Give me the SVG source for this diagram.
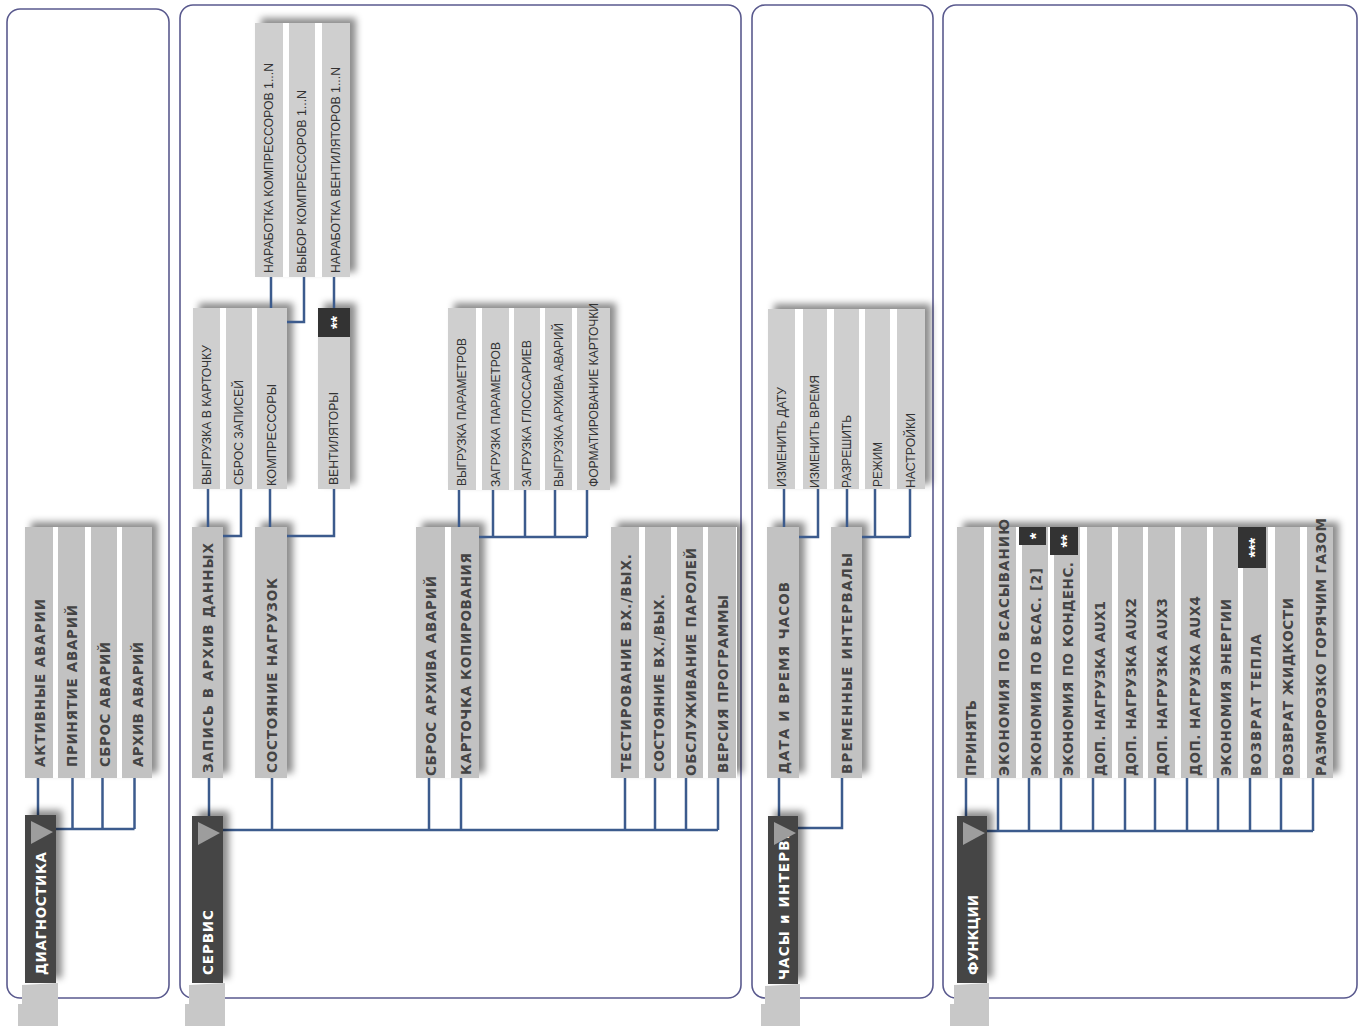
<svg xmlns="http://www.w3.org/2000/svg" width="1362" height="1026" viewBox="0 0 1362 1026">
<style>
.panel{fill:none;stroke:#5a5a8e;stroke-width:1.6}
.back{fill:#fff;filter:url(#sh)}
.b1{fill:#c2c2c2}
.b2{fill:#cfcfcf}
.t1{font-family:"DejaVu Sans","Liberation Sans",sans-serif;font-weight:bold;font-size:13.5px;fill:#444}
.t2{font-family:"Liberation Sans",Arial,sans-serif;font-size:12px;fill:#333}
.root{fill:#444;filter:url(#sh)}
.tr{font-family:"DejaVu Sans","Liberation Sans",sans-serif;font-weight:bold;font-size:13.5px;fill:#fff}
.tri{fill:#9d9d9d}
.tab{fill:#c8c8c8}
.box{fill:#333}
.ts{font-family:"Liberation Sans",Arial,sans-serif;font-weight:bold;font-size:17px;fill:#fff}
.conn{fill:none;stroke:#3c5b8d;stroke-width:2.5}
</style>
<defs>
<filter id="sh" x="-100%" y="-20%" width="300%" height="140%">
<feDropShadow dx="6" dy="-5" stdDeviation="3.5" flood-color="#000" flood-opacity="0.45"/>
</filter>
</defs>
<rect width="1362" height="1026" fill="#fff"/>
<g id="panels">
<rect class="panel" x="7" y="9" width="162" height="989" rx="13"/>
<rect class="panel" x="180" y="5" width="561" height="993" rx="13"/>
<rect class="panel" x="752" y="5" width="181" height="993" rx="13"/>
<rect class="panel" x="943" y="5" width="414" height="993" rx="13"/>
</g>
<g id="shadows">
<rect class="back" x="25" y="527" width="127" height="251"/>
<rect class="back" x="192" y="527" width="31" height="251"/>
<rect class="back" x="255" y="527" width="32" height="251"/>
<rect class="back" x="416" y="527" width="63" height="251"/>
<rect class="back" x="611" y="527" width="126" height="251"/>
<rect class="back" x="193" y="308" width="94" height="181"/>
<rect class="back" x="318" y="308" width="32" height="181"/>
<rect class="back" x="448" y="308" width="162" height="182"/>
<rect class="back" x="255" y="23" width="95" height="254"/>
<rect class="back" x="767" y="527" width="32" height="251"/>
<rect class="back" x="831" y="527" width="31" height="251"/>
<rect class="back" x="768" y="309" width="157" height="180"/>
<rect class="back" x="957" y="527" width="376" height="251"/>
</g>
<g id="connectors">
<path class="conn" d="M38,778V816M72.5,778V829M102.5,778V829M134.5,778V829M56,829H134.5"/>
<path class="conn" d="M209,778V816M272,778V830M429,778V830M461,778V830M625,778V830M655,778V830M686,778V830M718,778V830M223,830H718"/>
<path class="conn" d="M208,489V527M241,489V536H223M270,489V527M334,489V536H287"/>
<path class="conn" d="M271,277V308M304,277V322H287M334,277V308"/>
<path class="conn" d="M459,490V527M493,490V537M525,490V537M555,490V537M587,490V537M479,537H587"/>
<path class="conn" d="M779,778V816M842,778V828H798M784,489V527M818,489V537H799M847,489V527M875,489V537M910,489V537M862,537H910"/>
<path class="conn" d="M966,778V816M998,778V831M1029,778V831M1061,778V831M1093,778V831M1125,778V831M1155,778V831M1187,778V831M1218,778V831M1250,778V831M1281,778V831M1313,778V831M987,831H1313"/>
</g>
<!-- Panel 1 -->
<g id="n-diagnostika">
<rect class="root" x="25" y="815" width="31" height="168"/>
<text class="tr" transform="translate(45.5,975) rotate(-90)" textLength="123" lengthAdjust="spacing">ДИАГНОСТИКА</text>
<polygon class="tri" points="31,821 31,844 53,832"/>
<polygon class="tab" points="22,985 58,983 58,1026 18,1026 18,1004 22,1004"/>
</g>
<g id="n-aktivnye"><rect class="b1" x="25" y="527" width="28" height="251"/><text class="t1" transform="translate(44.5,767) rotate(-90)" textLength="168" lengthAdjust="spacing">АКТИВНЫЕ АВАРИИ</text></g>
<g id="n-prinyatie"><rect class="b1" x="58" y="527" width="27" height="251"/><text class="t1" transform="translate(77,767) rotate(-90)" textLength="162" lengthAdjust="spacing">ПРИНЯТИЕ АВАРИЙ</text></g>
<g id="n-sbros"><rect class="b1" x="91" y="527" width="26" height="251"/><text class="t1" transform="translate(109.5,767) rotate(-90)" textLength="125" lengthAdjust="spacing">СБРОС АВАРИЙ</text></g>
<g id="n-arhiv"><rect class="b1" x="122" y="527" width="30" height="251"/><text class="t1" transform="translate(142.5,767) rotate(-90)" textLength="125" lengthAdjust="spacing">АРХИВ АВАРИЙ</text></g>
<!-- Panel 2 -->
<g id="n-servis">
<rect class="root" x="192" y="816" width="31" height="167"/>
<text class="tr" transform="translate(212.5,975) rotate(-90)" textLength="65" lengthAdjust="spacing">СЕРВИС</text>
<polygon class="tri" points="198,822 198,845 220,833"/>
<polygon class="tab" points="189,985 225,983 225,1026 185,1026 185,1004 189,1004"/>
</g>
<g id="n-zapis"><rect class="b1" x="192" y="527" width="31" height="251"/><text class="t1" transform="translate(213,773) rotate(-90)" textLength="230" lengthAdjust="spacing">ЗАПИСЬ В АРХИВ ДАННЫХ</text></g>
<g id="n-sost-nagr"><rect class="b1" x="255" y="527" width="32" height="251"/><text class="t1" transform="translate(276.5,773) rotate(-90)" textLength="195" lengthAdjust="spacing">СОСТОЯНИЕ НАГРУЗОК</text></g>
<g id="n-sbros-arh"><rect class="b1" x="416" y="527" width="29" height="251"/><text class="t1" transform="translate(436,776) rotate(-90)" textLength="200" lengthAdjust="spacing">СБРОС АРХИВА АВАРИЙ</text></g>
<g id="n-kartochka"><rect class="b1" x="451" y="527" width="28" height="251"/><text class="t1" transform="translate(470.5,775) rotate(-90)" textLength="222" lengthAdjust="spacing">КАРТОЧКА КОПИРОВАНИЯ</text></g>
<g id="n-test"><rect class="b1" x="611" y="527" width="28" height="251"/><text class="t1" transform="translate(630.5,772) rotate(-90)" textLength="218" lengthAdjust="spacing">ТЕСТИРОВАНИЕ ВХ./ВЫХ.</text></g>
<g id="n-sost-vh"><rect class="b1" x="645" y="527" width="26" height="251"/><text class="t1" transform="translate(663.5,772) rotate(-90)" textLength="178" lengthAdjust="spacing">СОСТОЯНИЕ ВХ./ВЫХ.</text></g>
<g id="n-obsl"><rect class="b1" x="677" y="527" width="26" height="251"/><text class="t1" transform="translate(695.5,776) rotate(-90)" textLength="228" lengthAdjust="spacing">ОБСЛУЖИВАНИЕ ПАРОЛЕЙ</text></g>
<g id="n-versiya"><rect class="b1" x="708" y="527" width="28" height="251"/><text class="t1" transform="translate(727.5,773) rotate(-90)" textLength="178" lengthAdjust="spacing">ВЕРСИЯ ПРОГРАММЫ</text></g>
<g id="n-vygr-kart"><rect class="b2" x="193" y="308" width="27" height="181"/><text class="t2" transform="translate(210.8,485) rotate(-90)" textLength="140" lengthAdjust="spacingAndGlyphs">ВЫГРУЗКА В КАРТОЧКУ</text></g>
<g id="n-sbros-zap"><rect class="b2" x="226" y="308" width="26" height="181"/><text class="t2" transform="translate(243.3,485) rotate(-90)" textLength="105" lengthAdjust="spacingAndGlyphs">СБРОС ЗАПИСЕЙ</text></g>
<g id="n-kompr"><rect class="b2" x="257" y="308" width="30" height="181"/><text class="t2" transform="translate(276.3,486) rotate(-90)" textLength="102" lengthAdjust="spacingAndGlyphs">КОМПРЕССОРЫ</text></g>
<g id="n-vent"><rect class="b2" x="318" y="308" width="32" height="181"/><rect class="box" x="318" y="308" width="32" height="29"/><text class="ts" transform="translate(343,322.5) rotate(-90)" text-anchor="middle">**</text><text class="t2" transform="translate(338.3,485) rotate(-90)" textLength="93" lengthAdjust="spacingAndGlyphs">ВЕНТИЛЯТОРЫ</text></g>
<g id="n-narab-kompr"><rect class="b2" x="255" y="23" width="28" height="254"/><text class="t2" transform="translate(273.3,273) rotate(-90)" textLength="210" lengthAdjust="spacingAndGlyphs">НАРАБОТКА КОМПРЕССОРОВ 1...N</text></g>
<g id="n-vybor-kompr"><rect class="b2" x="289" y="23" width="26" height="254"/><text class="t2" transform="translate(306.3,273) rotate(-90)" textLength="183" lengthAdjust="spacingAndGlyphs">ВЫБОР КОМПРЕССОРОВ 1...N</text></g>
<g id="n-narab-vent"><rect class="b2" x="322" y="23" width="28" height="254"/><text class="t2" transform="translate(340.3,273) rotate(-90)" textLength="206" lengthAdjust="spacingAndGlyphs">НАРАБОТКА ВЕНТИЛЯТОРОВ 1...N</text></g>
<g id="n-vygr-par"><rect class="b2" x="448" y="308" width="28" height="182"/><text class="t2" transform="translate(466.3,486) rotate(-90)" textLength="148" lengthAdjust="spacingAndGlyphs">ВЫГРУЗКА ПАРАМЕТРОВ</text></g>
<g id="n-zagr-par"><rect class="b2" x="482" y="308" width="27" height="182"/><text class="t2" transform="translate(499.8,487) rotate(-90)" textLength="145" lengthAdjust="spacingAndGlyphs">ЗАГРУЗКА ПАРАМЕТРОВ</text></g>
<g id="n-zagr-gl"><rect class="b2" x="514" y="308" width="26" height="182"/><text class="t2" transform="translate(531.3,487) rotate(-90)" textLength="147" lengthAdjust="spacingAndGlyphs">ЗАГРУЗКА ГЛОССАРИЕВ</text></g>
<g id="n-vygr-arh"><rect class="b2" x="545" y="308" width="27" height="182"/><text class="t2" transform="translate(562.8,487) rotate(-90)" textLength="164" lengthAdjust="spacingAndGlyphs">ВЫГРУЗКА АРХИВА АВАРИЙ</text></g>
<g id="n-format"><rect class="b2" x="577" y="308" width="33" height="182"/><text class="t2" transform="translate(597.8,487) rotate(-90)" textLength="184" lengthAdjust="spacingAndGlyphs">ФОРМАТИРОВАНИЕ КАРТОЧКИ</text></g>
<!-- Panel 3 -->
<g id="n-chasy">
<rect class="root" x="768" y="816" width="30" height="168"/>
<text class="tr" transform="translate(788.5,980) rotate(-90)" textLength="146" lengthAdjust="spacing">ЧАСЫ и ИНТЕРВ.</text>
<polygon class="tri" points="774,822 774,845 796,833"/>
<polygon class="tab" points="765,986 800,984 800,1026 761,1026 761,1004 765,1004"/>
</g>
<g id="n-data"><rect class="b1" x="767" y="527" width="32" height="251"/><text class="t1" transform="translate(788.5,774) rotate(-90)" textLength="192" lengthAdjust="spacing">ДАТА И ВРЕМЯ ЧАСОВ</text></g>
<g id="n-vrem-int"><rect class="b1" x="831" y="527" width="31" height="251"/><text class="t1" transform="translate(852,774) rotate(-90)" textLength="221" lengthAdjust="spacing">ВРЕМЕННЫЕ ИНТЕРВАЛЫ</text></g>
<g id="n-izm-datu"><rect class="b2" x="768" y="309" width="27" height="180"/><text class="t2" transform="translate(785.8,487) rotate(-90)" textLength="100" lengthAdjust="spacingAndGlyphs">ИЗМЕНИТЬ ДАТУ</text></g>
<g id="n-izm-vremya"><rect class="b2" x="803" y="309" width="24" height="180"/><text class="t2" transform="translate(819.3,488) rotate(-90)" textLength="113" lengthAdjust="spacingAndGlyphs">ИЗМЕНИТЬ ВРЕМЯ</text></g>
<g id="n-razreshit"><rect class="b2" x="834" y="309" width="25" height="180"/><text class="t2" transform="translate(850.8,488) rotate(-90)" textLength="73" lengthAdjust="spacingAndGlyphs">РАЗРЕШИТЬ</text></g>
<g id="n-rezhim"><rect class="b2" x="865" y="309" width="25" height="180"/><text class="t2" transform="translate(881.8,487) rotate(-90)" textLength="45" lengthAdjust="spacingAndGlyphs">РЕЖИМ</text></g>
<g id="n-nastroyki"><rect class="b2" x="897" y="309" width="28" height="180"/><text class="t2" transform="translate(915.3,488) rotate(-90)" textLength="75" lengthAdjust="spacingAndGlyphs">НАСТРОЙКИ</text></g>
<!-- Panel 4 -->
<g id="n-funkcii">
<rect class="root" x="957" y="816" width="30" height="167"/>
<text class="tr" transform="translate(977.5,975) rotate(-90)" textLength="80" lengthAdjust="spacing">ФУНКЦИИ</text>
<polygon class="tri" points="963,822 963,845 985,833"/>
<polygon class="tab" points="954,985 989,983 989,1026 950,1026 950,1004 954,1004"/>
</g>
<g id="n-prinyat"><rect class="b1" x="957" y="527" width="27" height="251"/><text class="t1" transform="translate(976,776) rotate(-90)" textLength="76" lengthAdjust="spacing">ПРИНЯТЬ</text></g>
<g id="n-ek-vsas"><rect class="b1" x="991" y="527" width="25" height="251"/><text class="t1" transform="translate(1009,776) rotate(-90)" textLength="257" lengthAdjust="spacing">ЭКОНОМИЯ ПО ВСАСЫВАНИЮ</text></g>
<g id="n-ek-vsas2"><rect class="b1" x="1022" y="527" width="26" height="251"/><rect class="box" x="1019" y="527" width="27" height="18"/><text class="ts" transform="translate(1042,536) rotate(-90)" text-anchor="middle">*</text><text class="t1" transform="translate(1040.5,776) rotate(-90)" textLength="208" lengthAdjust="spacing">ЭКОНОМИЯ ПО ВСАС. [2]</text></g>
<g id="n-ek-kond"><rect class="b1" x="1054" y="527" width="26" height="251"/><rect class="box" x="1050" y="527" width="28" height="28"/><text class="ts" transform="translate(1073,541) rotate(-90)" text-anchor="middle">**</text><text class="t1" transform="translate(1072.5,776) rotate(-90)" textLength="214" lengthAdjust="spacing">ЭКОНОМИЯ ПО КОНДЕНС.</text></g>
<g id="n-aux1"><rect class="b1" x="1087" y="527" width="25" height="251"/><text class="t1" transform="translate(1105,776) rotate(-90)" textLength="175" lengthAdjust="spacing">ДОП. НАГРУЗКА AUX1</text></g>
<g id="n-aux2"><rect class="b1" x="1118" y="527" width="25" height="251"/><text class="t1" transform="translate(1136,776) rotate(-90)" textLength="178" lengthAdjust="spacing">ДОП. НАГРУЗКА AUX2</text></g>
<g id="n-aux3"><rect class="b1" x="1148" y="527" width="27" height="251"/><text class="t1" transform="translate(1166.5,776) rotate(-90)" textLength="178" lengthAdjust="spacing">ДОП. НАГРУЗКА AUX3</text></g>
<g id="n-aux4"><rect class="b1" x="1181" y="527" width="26" height="251"/><text class="t1" transform="translate(1199.5,776) rotate(-90)" textLength="180" lengthAdjust="spacing">ДОП. НАГРУЗКА AUX4</text></g>
<g id="n-ek-energ"><rect class="b1" x="1213" y="527" width="25" height="251"/><text class="t1" transform="translate(1231,776) rotate(-90)" textLength="177" lengthAdjust="spacing">ЭКОНОМИЯ ЭНЕРГИИ</text></g>
<g id="n-vozvr-tepla"><rect class="b1" x="1243" y="527" width="25" height="251"/><rect class="box" x="1238" y="527" width="28" height="41"/><text class="ts" transform="translate(1261,547.5) rotate(-90)" text-anchor="middle">***</text><text class="t1" transform="translate(1261,776) rotate(-90)" textLength="142" lengthAdjust="spacing">ВОЗВРАТ ТЕПЛА</text></g>
<g id="n-vozvr-zhid"><rect class="b1" x="1275" y="527" width="25" height="251"/><text class="t1" transform="translate(1293,776) rotate(-90)" textLength="178" lengthAdjust="spacing">ВОЗВРАТ ЖИДКОСТИ</text></g>
<g id="n-razmor"><rect class="b1" x="1307" y="527" width="26" height="251"/><text class="t1" transform="translate(1325.5,776) rotate(-90)" textLength="258" lengthAdjust="spacing">РАЗМОРОЗКО ГОРЯЧИМ ГАЗОМ</text></g>
</svg>
